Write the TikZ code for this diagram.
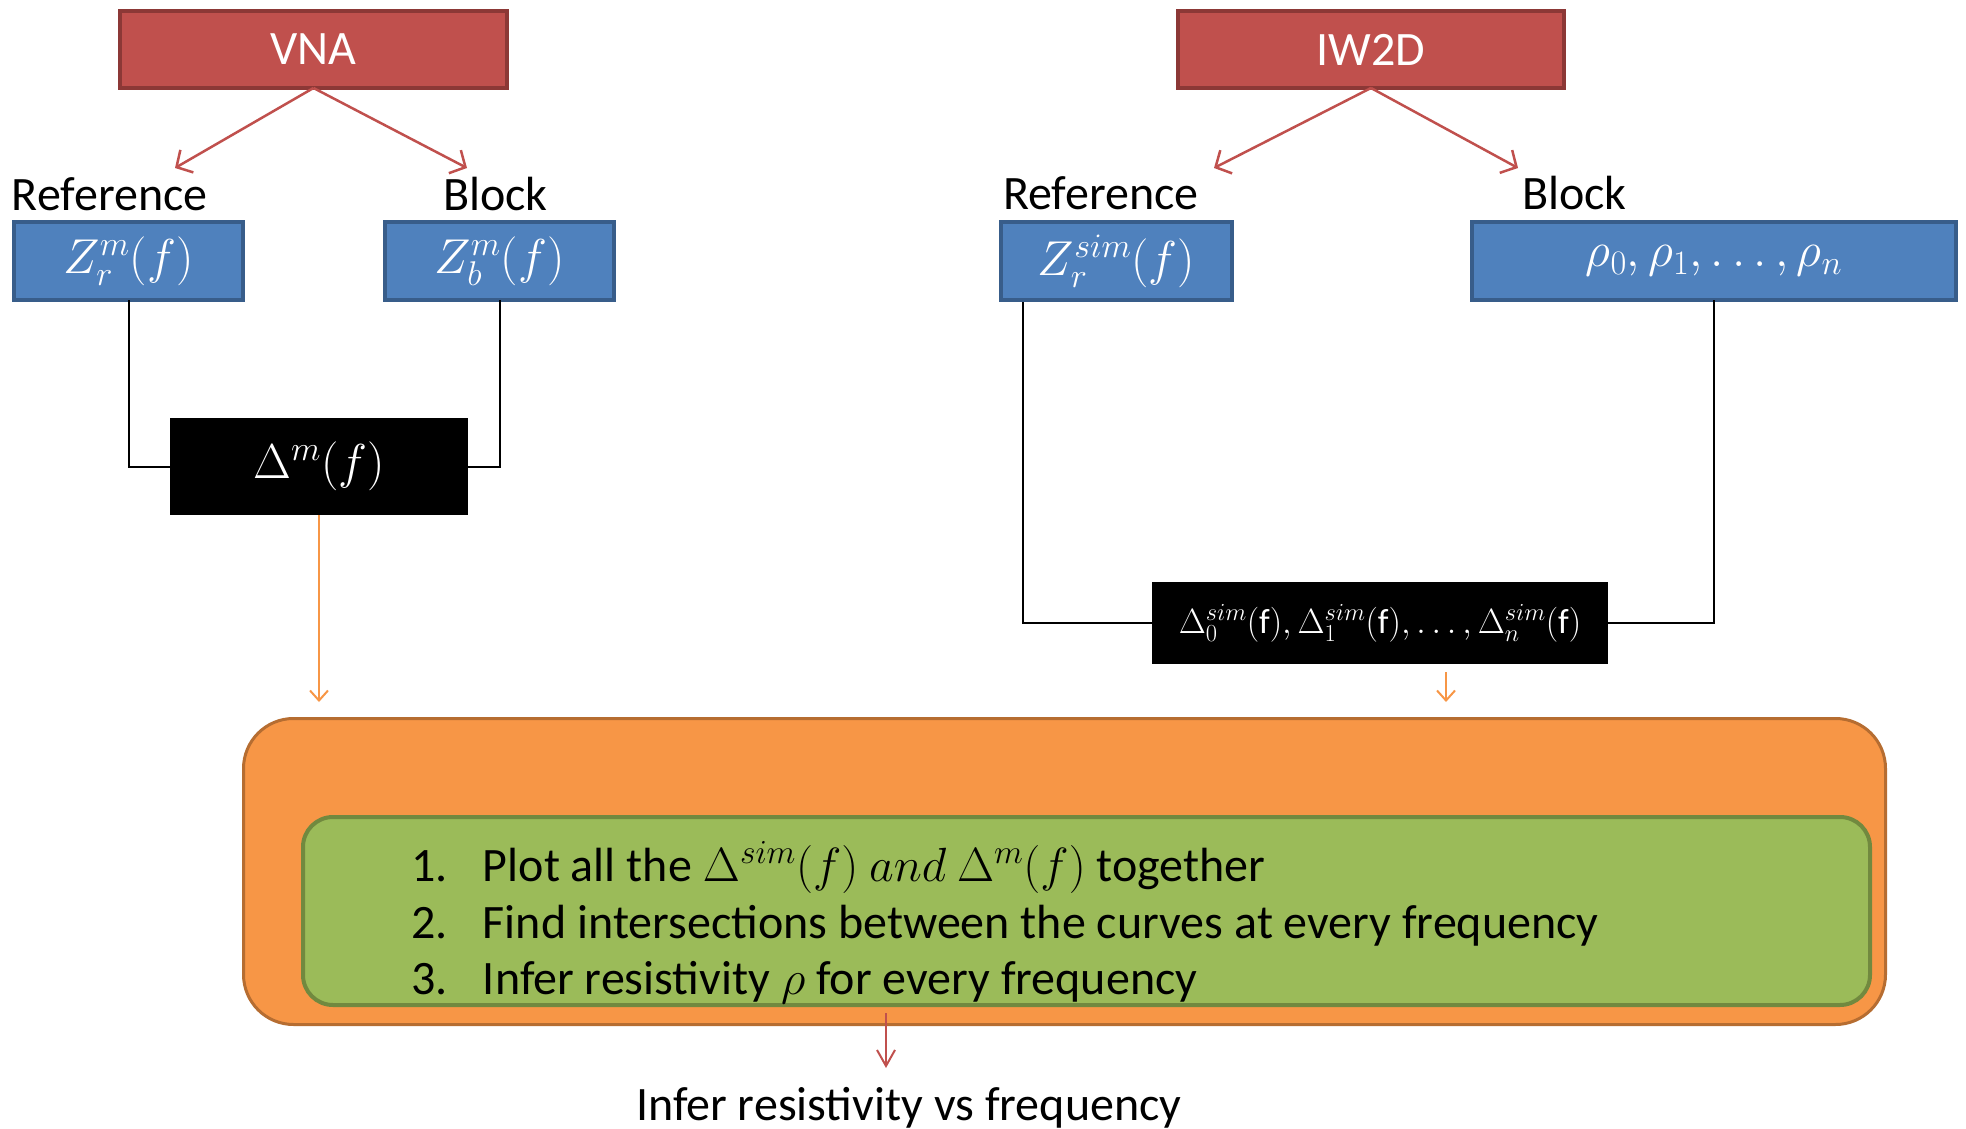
\RequirePackage{fix-cm}
\documentclass[tikz,border=0pt]{standalone}
\usepackage{fontspec}
\setmainfont{Carlito}
\usetikzlibrary{arrows.meta,calc}
\definecolor{redf}{HTML}{C0504D}
\definecolor{redd}{HTML}{8C3836}
\definecolor{bluef}{HTML}{4F81BD}
\definecolor{blued}{HTML}{385D8A}
\definecolor{orf}{HTML}{F79646}
\definecolor{ord}{HTML}{B66D31}
\definecolor{grf}{HTML}{9BBB59}
\definecolor{grd}{HTML}{71893F}
\newcommand\bigfnt{\fontsize{48}{56}\selectfont}
\newcommand\mathfnt{\fontsize{49}{58}\selectfont}
\newcommand\simfnt{\fontsize{35}{40}\selectfont}
\begin{document}
\begin{tikzpicture}[x=1pt,y=-1pt,
  every node/.style={inner sep=0pt, outer sep=0pt},
  redbox/.style={draw=redd, fill=redf, line width=4pt, text=white, font=\bigfnt, minimum height=77pt},
  bluebox/.style={draw=blued, fill=bluef, line width=4pt, text=white, font=\mathfnt, minimum height=78pt},
  blackbox/.style={fill=black, text=white},
  lbl/.style={font=\bigfnt, text=black},
  redarrow/.style={draw=redf, line width=2.5pt, -{Straight Barb[length=12pt,width=26pt]}},
  redarrowb/.style={draw=redf, line width=2pt, -{Straight Barb[length=16pt,width=18pt]}},
  orarrow/.style={draw=orf, line width=2pt, -{Straight Barb[length=10pt,width=18pt]}},
  link/.style={draw=black, line width=2pt}
]
\useasboundingbox (0,0) rectangle (1966,1129);

% top sources
\node[redbox, minimum width=387pt] (vna) at (313.5,49.5) {VNA};
\node[redbox, minimum width=386pt] (iw) at (1371,49.5) {IW2D};

\coordinate (vl) at (175,168);
\coordinate (vr) at (467,168);
\coordinate (il) at (1214,168);
\coordinate (ir) at (1518,168);
\draw[redarrow] (vna.south) -- (vl);
\draw[redarrow] (vna.south) -- (vr);
\draw[redarrow] (iw.south) -- (il);
\draw[redarrow] (iw.south) -- (ir);

% labels
\node[lbl, anchor=base west] (refl) at (12,211) {Reference};
\node[lbl, anchor=base west] (blkl) at (443,211) {Block};
\node[lbl, anchor=base west] (refr) at (1003,209) {Reference};
\node[lbl, anchor=base west] (blkr) at (1522,209) {Block};

% blue boxes
\node[bluebox, minimum width=229pt] (zr) at (128.5,261) {$Z_r^m(f)$};
\node[bluebox, minimum width=229pt] (zb) at (499.5,261) {$Z_b^m(f)$};
\node[bluebox, minimum width=231pt] (zrs) at (1116.5,261) {$Z_r^{sim}(f)$};
\node[bluebox, minimum width=484pt] (rho) at (1714,261) {$\rho_0,\rho_1,\dots,\rho_n$};

% black boxes
\node[blackbox, font=\mathfnt, minimum width=298pt, minimum height=97pt] (dm) at (319,466.5) {$\Delta^m(f)$};
\node[blackbox, font=\simfnt, minimum width=456pt, minimum height=82pt] (ds) at (1380,623)
  {$\Delta_0^{sim}(\mathrm{f}),\Delta_1^{sim}(\mathrm{f}),\dots,\Delta_n^{sim}(\mathrm{f})$};

% connectors
\draw[link] (zr.south) |- (dm.west);
\draw[link] (zb.south) |- (dm.east);
\coordinate (zrsfoot) at (1023,302);
\draw[link] (zrsfoot) |- (ds.west);
\draw[link] (rho.south) |- (ds.east);

% process box
\node[draw=ord, fill=orf, line width=3pt, rounded corners=50pt,
      minimum width=1642pt, minimum height=306pt] (proc) at (1064.5,871.5) {};
\node[draw=grd, fill=grf, line width=4pt, rounded corners=30pt,
      minimum width=1567pt, minimum height=188pt] (steps) at (1086.5,911) {};

\node[lbl, anchor=base west] (s1) at (411,881) {\makebox[72pt][l]{1.}Plot all the $\Delta^{sim}(f)\ and\ \Delta^{m}(f)$ together};
\node[lbl, anchor=base west] (s2) at (411,938) {\makebox[72pt][l]{2.}Find intersections between the curves at every frequency};
\node[lbl, anchor=base west] (s3) at (411,994) {\makebox[72pt][l]{3.}Infer resistivity $\rho$ for every frequency};

% orange arrows into process
\coordinate (oa) at (319,702);
\draw[orarrow] (dm.south) -- (oa);
\coordinate (ob0) at (1446,672);
\coordinate (ob) at (1446,702);
\draw[orarrow] (ob0) -- (ob);

% result
\node[lbl, anchor=base west] (res) at (636,1120) {Infer resistivity vs frequency};
\coordinate (ra) at (886,1013);
\coordinate (rb) at (886,1068);
\draw[redarrowb] (ra) -- (rb);
\end{tikzpicture}
\end{document}
